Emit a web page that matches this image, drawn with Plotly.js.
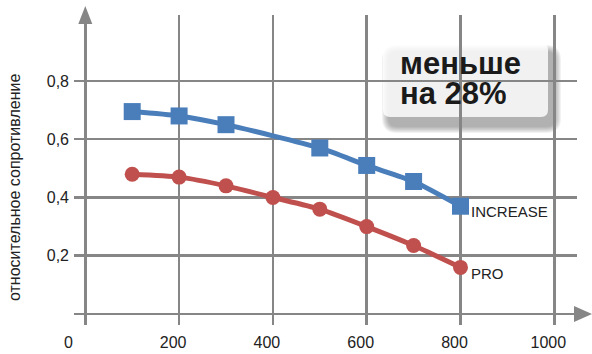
<!DOCTYPE html>
<html>
<head>
<meta charset="utf-8">
<script src="https://cdn.plot.ly/plotly-3.0.1.min.js"></script>
<style>html,body{margin:0;padding:0;background:#fff}</style>
</head>
<body>
<div id="chart" style="width:592px;height:354px"></div>
<script>
// Relative resistance against load for the two products
const loadIncrease = [100, 200, 300, 500, 600, 700, 800];
const resIncrease  = [0.695, 0.68, 0.65, 0.57, 0.51, 0.455, 0.37];
const loadPro = [100, 200, 300, 400, 500, 600, 700, 800];
const resPro  = [0.48, 0.47, 0.44, 0.40, 0.36, 0.30, 0.235, 0.16];
const xTicks = [200, 400, 600, 800, 1000];
const yTicks = [0.2, 0.4, 0.6, 0.8];
const seriesNames = ['INCREASE', 'PRO'];
const yTitle = 'относительное сопротивление';
const calloutLines = ['меньше', 'на 28%'];

const W = 592, H = 354;
const M = {l: 74, r: 15, t: 15, b: 29};
const plotW = W - M.l - M.r, plotH = H - M.t - M.b;
const xRange = [-24.1, 1048.4];
const yRange = [-0.0378, 1.0266];

// pixel <-> paper helpers for the decorations that sit outside the plot area
const px = v => (v - M.l) / plotW;
const py = v => (H - M.b - v) / plotH;
const xToPx = x => M.l + (x - xRange[0]) / (xRange[1] - xRange[0]) * plotW;
const yToPx = y => H - M.b - (y - yRange[0]) / (yRange[1] - yRange[0]) * plotH;

const GRID = '#868686';
const BLUE = '#4a7ebb';
const RED = '#c0504d';
const FONT = 'Liberation Sans, Arial, Helvetica, sans-serif';

function pathFromPx(points) {
  return 'M' + points.map(p => px(p[0]).toFixed(5) + ',' + py(p[1]).toFixed(5)).join(' L') + ' Z';
}
function roundRect(x0, y0, x1, y1, r) {
  const P = (a, b) => px(a).toFixed(5) + ',' + py(b).toFixed(5);
  return 'M' + P(x0 + r, y0) + ' L' + P(x1 - r, y0) +
    ' Q' + P(x1, y0) + ' ' + P(x1, y0 + r) +
    ' L' + P(x1, y1 - r) + ' Q' + P(x1, y1) + ' ' + P(x1 - r, y1) +
    ' L' + P(x0 + r, y1) + ' Q' + P(x0, y1) + ' ' + P(x0, y1 - r) +
    ' L' + P(x0, y0 + r) + ' Q' + P(x0, y0) + ' ' + P(x0 + r, y0) + ' Z';
}

const ax0 = xToPx(0), ay0 = yToPx(0);
const shapes = [];

// soft drop shadow behind the callout box
const box = {x0: 383, y0: 43, x1: 548, y1: 117};
for (let i = 0; i < 7; i++) {
  const g = 7 - i;
  shapes.push({
    type: 'path', xref: 'paper', yref: 'paper', layer: 'below',
    path: roundRect(box.x0 + 6 - g, box.y0 + 9 - g, box.x1 + 6 + g, box.y1 + 9 + g, 8 + g),
    fillcolor: 'rgba(60,60,60,0.065)', line: {width: 0}
  });
}
// callout box
shapes.push({
  type: 'path', xref: 'paper', yref: 'paper', layer: 'between',
  path: roundRect(box.x0, box.y0, box.x1, box.y1, 7),
  fillcolor: 'rgba(255,255,255,0.82)', line: {width: 0}
});
// axis arrow heads
shapes.push({
  type: 'path', xref: 'paper', yref: 'paper', layer: 'above',
  path: pathFromPx([[ax0, 6], [ax0 - 7, 24], [ax0 + 7, 24]]),
  fillcolor: GRID, line: {width: 0}
});
shapes.push({
  type: 'path', xref: 'paper', yref: 'paper', layer: 'above',
  path: pathFromPx([[592, ay0], [574, ay0 - 8], [574, ay0 + 8]]),
  fillcolor: GRID, line: {width: 0}
});

const calloutFont = {family: FONT, size: 31, color: '#1a1a1a'};
const annotations = [
  {x: 0, xref: 'x', y: py(342), yref: 'paper', text: '0', showarrow: false,
   xshift: -17, yanchor: 'middle', font: {family: FONT, size: 16, color: '#222'}},
  {x: px(14), xref: 'paper', y: py(188), yref: 'paper', text: yTitle, textangle: -90,
   showarrow: false, xanchor: 'center', yanchor: 'middle',
   font: {family: FONT, size: 16, color: '#222'}},
  {x: px(398), xref: 'paper', y: py(63), yref: 'paper', text: '<b>' + calloutLines[0] + '</b>',
   showarrow: false, xanchor: 'left', yanchor: 'middle', height: 28, valign: 'middle',
   font: calloutFont},
  {x: px(398), xref: 'paper', y: py(93), yref: 'paper', text: '<b>' + calloutLines[1] + '</b>',
   showarrow: false, xanchor: 'left', yanchor: 'middle', height: 28, valign: 'middle',
   font: calloutFont},
  {x: loadIncrease[loadIncrease.length - 1], y: resIncrease[resIncrease.length - 1],
   text: seriesNames[0], showarrow: false, xanchor: 'left', yanchor: 'middle',
   xshift: 8, yshift: -5, font: {family: FONT, size: 15, color: '#222'}},
  {x: loadPro[loadPro.length - 1], y: resPro[resPro.length - 1],
   text: seriesNames[1], showarrow: false, xanchor: 'left', yanchor: 'middle',
   xshift: 8, yshift: -6, font: {family: FONT, size: 15, color: '#222'}}
];

const traces = [
  {x: loadIncrease, y: resIncrease, type: 'scatter', mode: 'lines+markers', name: seriesNames[0],
   line: {color: BLUE, width: 5, shape: 'spline', smoothing: 0.6},
   marker: {symbol: 'square', size: 17, color: BLUE}, cliponaxis: false},
  {x: loadPro, y: resPro, type: 'scatter', mode: 'lines+markers', name: seriesNames[1],
   line: {color: RED, width: 5, shape: 'spline', smoothing: 0.6},
   marker: {symbol: 'circle', size: 15, color: RED}, cliponaxis: false}
];

const layout = {
  width: W, height: H, autosize: false,
  margin: M,
  paper_bgcolor: '#fff', plot_bgcolor: 'rgba(0,0,0,0)',
  showlegend: false,
  font: {family: FONT, color: '#222'},
  xaxis: {
    range: xRange, tickvals: xTicks, ticktext: xTicks.map(String),
    showgrid: true, gridcolor: GRID, gridwidth: 2.5,
    zeroline: true, zerolinecolor: GRID, zerolinewidth: 2.5,
    showline: false, ticks: '', ticklabelshift: -6, ticklabelstandoff: 6,
    tickfont: {family: FONT, size: 16, color: '#222'}, fixedrange: true
  },
  yaxis: {
    range: yRange, tickvals: yTicks, ticktext: yTicks.map(v => v.toFixed(1).replace('.', ',')),
    showgrid: true, gridcolor: GRID, gridwidth: 2.5,
    zeroline: true, zerolinecolor: GRID, zerolinewidth: 2.5,
    showline: false, ticks: '', ticklabelstandoff: 4,
    tickfont: {family: FONT, size: 16, color: '#222'}, fixedrange: true
  },
  shapes: shapes,
  annotations: annotations
};

Plotly.newPlot('chart', traces, layout, {staticPlot: true, displayModeBar: false});
</script>
</body>
</html>
